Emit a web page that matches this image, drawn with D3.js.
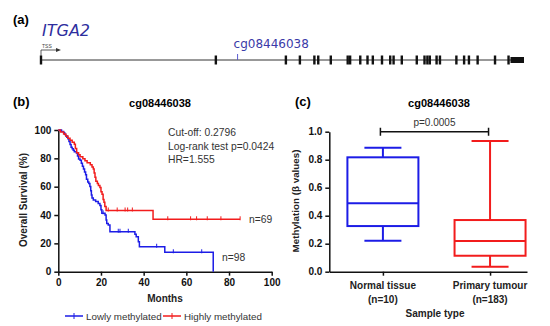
<!DOCTYPE html>
<html>
<head>
<meta charset="utf-8">
<script src="https://cdn.jsdelivr.net/npm/d3@7"></script>
<style>
  body { margin: 0; background: #fff; }
  svg { display: block; font-family: "Liberation Sans", Arial, sans-serif; }
</style>
</head>
<body>
<svg id="chart" width="550" height="326"></svg>
<script>
// ---- data ----
// gene model (relative position along ITGA2, 0..100)
var exonPos = [0, 36.2, 50.7, 53.6, 56.6, 57.4, 60.0, 63.5, 64.0, 66.1, 67.6, 68.7, 70.6, 72.3, 73.0, 74.7,
  77.8, 79.4, 80.0, 80.5, 81.9, 82.6, 86.0, 87.6, 88.6, 90.4, 94.0, 96.8];
var utrEnd = [97.2, 100];
var probePos = 40.7;

// Kaplan-Meier steps [month, survival %]
var lowSteps = [[0,100],[1.5,99],[2.5,98],[3,96.9],[3.5,95.9],[4,94.9],[4.5,93.9],[5,91.8],[5.5,89.8],[6,87.8],
  [6.5,86.7],[7,85.7],[7.5,84.7],[8.5,83.7],[9,81.6],[9.5,79.6],[10.2,78.6],[10.8,76.5],[11.3,74.5],[11.8,72.4],
  [12.3,70.4],[12.8,68.4],[13.2,65.3],[13.8,63.3],[14.3,62.2],[14.8,60.2],[15.2,57.1],[15.5,54.1],[15.8,52],
  [16.4,50.6],[17.5,49.5],[18.7,48.2],[19.5,46.8],[20,43.8],[20.4,41.2],[21.9,40],[22.4,36.5],[22.7,34.1],
  [23.4,32.9],[24.2,28.2],[35.9,26.5],[36.5,24.7],[37.5,21.2],[38,17.6],[49.9,13.7],[72.6,0]];
var lowCensor = [[21,41.2],[28.1,28.2],[28.9,28.2],[32.8,28.2],[46.1,17.6],[53.9,13.7],[67.2,13.7]];
var lowEnd = 72.6;

var highSteps = [[0,100],[1,98.6],[2.5,97.1],[3.5,95.7],[4.5,94.2],[5.5,92.8],[6.5,91.3],[7.5,89.9],[8,87],
  [8.6,84],[9.5,82.6],[10.2,81.2],[11.5,79.7],[12.5,78.3],[13.5,76.8],[15,75.4],[15.8,73.9],[16.4,72.5],
  [16.8,69.6],[17.2,66.7],[17.6,63.8],[18.3,62.3],[18.8,60.9],[19.5,59.4],[20,56.5],[20.5,54.7],[21,51],
  [21.4,49],[21.8,46],[22.4,43.2],[44.4,37]];
var highCensor = [[23.4,43.2],[27.6,43.2],[31.3,43.2],[32.5,43.2],[34.7,43.2],[51.3,37],[62,37],[64.8,37],
  [69.8,37],[76.2,37],[85.2,37]];
var highEnd = 85.2;

var kmTicks = [0, 20, 40, 60, 80, 100];
var kmNotes = ["Cut-off: 0.2796", "Log-rank test p=0.0424", "HR=1.555"];

// box plot summary (beta values)
var groups = ["Normal tissue", "Primary tumour"];
var groupN = ["(n=10)", "(n=183)"];
var boxStats = [
  {min: 0.221, q1: 0.326, med: 0.489, q3: 0.817, max: 0.886},
  {min: 0.036, q1: 0.114, med: 0.219, q3: 0.369, max: 0.934}
];
var betaTicks = [0, 0.2, 0.4, 0.6, 0.8, 1.0];
var pText = "p=0.0005";

var BLUE = "#1c1ce6", RED = "#f21c1c";

var svg = d3.select("#chart");

// ---------- panel (a) ----------
svg.append("text").attr("x", 13).attr("y", 24).attr("font-size", 13).attr("font-weight", "bold").text("(a)");
svg.append("text").attr("x", 42).attr("y", 36)
  .attr("font-family", "DejaVu Sans").attr("font-style", "italic").attr("font-size", 16)
  .attr("fill", "#2e2e9e").text("ITGA2");

var geneX = d3.scaleLinear().domain([0, 100]).range([41, 524]);
var gy = 60;
var gene = svg.append("g");
gene.append("line").attr("x1", geneX(0)).attr("x2", geneX(100)).attr("y1", gy).attr("y2", gy)
  .attr("stroke", "#333").attr("stroke-width", 1);
gene.selectAll("rect.exon").data(exonPos).enter().append("rect")
  .attr("class", "exon")
  .attr("x", function(d) { return geneX(d) - 1.2; })
  .attr("y", gy - 4.5).attr("width", 2.4).attr("height", 9).attr("fill", "#111");
gene.append("rect").attr("x", geneX(utrEnd[0])).attr("y", gy - 3)
  .attr("width", geneX(utrEnd[1]) - geneX(utrEnd[0])).attr("height", 6).attr("fill", "#111");
// TSS arrow
gene.append("path").attr("d", "M" + geneX(0) + "," + (gy - 4) + "V" + (gy - 10) + "H" + (geneX(0) + 16))
  .attr("fill", "none").attr("stroke", "#333").attr("stroke-width", 0.8);
gene.append("path").attr("d", "M" + (geneX(0) + 20) + "," + (gy - 10) + "l-5,-2v4z").attr("fill", "#333");
gene.append("text").attr("x", geneX(0) + 1).attr("y", gy - 12).attr("font-size", 5)
  .attr("fill", "#444").text("TSS");
// probe
gene.append("line").attr("x1", geneX(probePos)).attr("x2", geneX(probePos)).attr("y1", gy - 6).attr("y2", gy)
  .attr("stroke", "#5a5ad0").attr("stroke-width", 1);
gene.append("text").attr("x", geneX(probePos) - 4).attr("y", 48)
  .attr("font-family", "DejaVu Sans").attr("font-size", 12).attr("fill", "#3a3aa8").text("cg08446038");

// ---------- panel (b) ----------
svg.append("text").attr("x", 13).attr("y", 106).attr("font-size", 13).attr("font-weight", "bold").text("(b)");
svg.append("text").attr("x", 160).attr("y", 107).attr("text-anchor", "middle")
  .attr("font-size", 11).attr("font-weight", "bold").text("cg08446038");

var kx = d3.scaleLinear().domain([0, 100]).range([58.3, 271.7]);
var ky = d3.scaleLinear().domain([0, 100]).range([271.7, 130]);

var kmAxisY = svg.append("g").attr("transform", "translate(" + kx(0) + ",0)")
  .call(d3.axisLeft(ky).tickValues(kmTicks).tickSize(4).tickSizeOuter(0));
var kmAxisX = svg.append("g").attr("transform", "translate(0," + ky(0) + ")")
  .call(d3.axisBottom(kx).tickValues(kmTicks).tickSize(4).tickSizeOuter(0));
[kmAxisY, kmAxisX].forEach(function(a) {
  a.selectAll("path, line").attr("stroke", "#111").attr("stroke-width", 1.5);
  a.selectAll("text").attr("font-family", "Liberation Sans").attr("font-size", 10)
    .attr("font-weight", "bold").attr("fill", "#111");
});

var stepLine = d3.line().x(function(d) { return kx(d[0]); }).y(function(d) { return ky(d[1]); })
  .curve(d3.curveStepAfter);

function drawKm(steps, endM, censor, color) {
  var pts = steps.slice();
  var last = pts[pts.length - 1];
  if (last[0] < endM) pts.push([endM, last[1]]);
  svg.append("path").attr("d", stepLine(pts)).attr("fill", "none")
    .attr("stroke", color).attr("stroke-width", 1.5);
  svg.append("g").selectAll("line").data(censor).enter().append("line")
    .attr("x1", function(d) { return kx(d[0]); }).attr("x2", function(d) { return kx(d[0]); })
    .attr("y1", function(d) { return ky(d[1]) - 3; }).attr("y2", function(d) { return ky(d[1]) + 1; })
    .attr("stroke", color).attr("stroke-width", 1);
}
drawKm(lowSteps, lowEnd, lowCensor, BLUE);
drawKm(highSteps, highEnd, highCensor, RED);

svg.append("g").selectAll("text").data(kmNotes).enter().append("text")
  .attr("x", 168).attr("y", function(d, i) { return 136 + i * 13.5; })
  .attr("font-size", 10.3).attr("fill", "#333").text(function(d) { return d; });
svg.append("text").attr("x", 249).attr("y", 223).attr("font-size", 10.3).attr("fill", "#333").text("n=69");
svg.append("text").attr("x", 222).attr("y", 261).attr("font-size", 10.3).attr("fill", "#333").text("n=98");

svg.append("text").attr("x", kx(50)).attr("y", 302).attr("text-anchor", "middle")
  .attr("font-size", 10).attr("font-weight", "bold").attr("fill", "#222").text("Months");
svg.append("text").attr("transform", "translate(27,200) rotate(-90)").attr("text-anchor", "middle")
  .attr("font-size", 10).attr("font-weight", "bold").attr("fill", "#222").text("Overall Survival (%)");

// legend
var legend = [{name: "Lowly methylated", color: BLUE, x: 65}, {name: "Highly methylated", color: RED, x: 163}];
var lg = svg.append("g").selectAll("g").data(legend).enter().append("g")
  .attr("transform", function(d) { return "translate(" + d.x + ",316)"; });
lg.append("line").attr("x1", 0).attr("x2", 18).attr("stroke", function(d) { return d.color; }).attr("stroke-width", 1.5);
lg.append("line").attr("x1", 9).attr("x2", 9).attr("y1", -3).attr("y2", 3)
  .attr("stroke", function(d) { return d.color; }).attr("stroke-width", 1);
lg.append("text").attr("x", 21).attr("y", 3.5).attr("font-size", 9.8).attr("fill", "#333")
  .text(function(d) { return d.name; });

// ---------- panel (c) ----------
svg.append("text").attr("x", 295).attr("y", 106).attr("font-size", 13).attr("font-weight", "bold").text("(c)");
svg.append("text").attr("x", 439).attr("y", 107).attr("text-anchor", "middle")
  .attr("font-size", 11).attr("font-weight", "bold").text("cg08446038");

var by = d3.scaleLinear().domain([0, 1]).range([271.7, 131.7]);
var bx = d3.scalePoint().domain(groups).range([329.3, 527]).padding(0.4226).align(0.592);

var bAxisY = svg.append("g").attr("transform", "translate(329.3,0)")
  .call(d3.axisLeft(by).tickValues(betaTicks).tickFormat(d3.format(".1f")).tickSize(4).tickSizeOuter(0));
var bAxisX = svg.append("g").attr("transform", "translate(0," + by(0) + ")")
  .call(d3.axisBottom(bx).tickSize(4).tickSizeOuter(0).tickFormat(""));
[bAxisY, bAxisX].forEach(function(a) {
  a.selectAll("path, line").attr("stroke", "#111").attr("stroke-width", 1.5);
  a.selectAll("text").attr("font-family", "Liberation Sans").attr("font-size", 10)
    .attr("font-weight", "bold").attr("fill", "#111");
});

var xl = svg.append("g").selectAll("text").data(groups).enter().append("text")
  .attr("text-anchor", "middle").attr("font-size", 10).attr("font-weight", "bold").attr("fill", "#222");
xl.append("tspan").attr("x", function(d) { return bx(d); }).attr("y", 289).text(function(d) { return d; });
xl.append("tspan").attr("x", function(d) { return bx(d); }).attr("y", 303)
  .text(function(d, i) { return groupN[i]; });

svg.append("text").attr("x", 435).attr("y", 317).attr("text-anchor", "middle")
  .attr("font-size", 10).attr("font-weight", "bold").attr("fill", "#222").text("Sample type");
var yl = svg.append("text").attr("transform", "translate(299,201) rotate(-90)").attr("text-anchor", "middle")
  .attr("font-size", 9.8).attr("font-weight", "bold").attr("fill", "#222");
yl.text("Methylation (β values)");

var boxW = 71, capW = 37;
var boxColors = [BLUE, RED];
var boxes = svg.append("g").selectAll("g").data(boxStats).enter().append("g")
  .attr("stroke", function(d, i) { return boxColors[i]; }).attr("stroke-width", 2).attr("fill", "none");
boxes.append("rect")
  .attr("x", function(d, i) { return bx(groups[i]) - boxW / 2; })
  .attr("y", function(d) { return by(d.q3); })
  .attr("width", boxW).attr("height", function(d) { return by(d.q1) - by(d.q3); });
boxes.append("line")
  .attr("x1", function(d, i) { return bx(groups[i]) - boxW / 2; })
  .attr("x2", function(d, i) { return bx(groups[i]) + boxW / 2; })
  .attr("y1", function(d) { return by(d.med); }).attr("y2", function(d) { return by(d.med); });
boxes.append("line")
  .attr("x1", function(d, i) { return bx(groups[i]); }).attr("x2", function(d, i) { return bx(groups[i]); })
  .attr("y1", function(d) { return by(d.max); }).attr("y2", function(d) { return by(d.q3); });
boxes.append("line")
  .attr("x1", function(d, i) { return bx(groups[i]); }).attr("x2", function(d, i) { return bx(groups[i]); })
  .attr("y1", function(d) { return by(d.q1); }).attr("y2", function(d) { return by(d.min); });
boxes.append("line")
  .attr("x1", function(d, i) { return bx(groups[i]) - capW / 2; })
  .attr("x2", function(d, i) { return bx(groups[i]) + capW / 2; })
  .attr("y1", function(d) { return by(d.max); }).attr("y2", function(d) { return by(d.max); });
boxes.append("line")
  .attr("x1", function(d, i) { return bx(groups[i]) - capW / 2; })
  .attr("x2", function(d, i) { return bx(groups[i]) + capW / 2; })
  .attr("y1", function(d) { return by(d.min); }).attr("y2", function(d) { return by(d.min); });

// significance bracket
var brY = by(1.0), bx1 = bx(groups[0]) - 2.5, bx2 = bx(groups[1]) - 1.5;
svg.append("path").attr("d", "M" + bx1 + "," + (brY - 4) + "v8M" + bx1 + "," + brY + "H" + bx2 + "M" + bx2 + "," + (brY - 4) + "v8")
  .attr("fill", "none").attr("stroke", "#111").attr("stroke-width", 1.5);
svg.append("text").attr("x", (bx1 + bx2) / 2).attr("y", brY - 6).attr("text-anchor", "middle")
  .attr("font-size", 10).attr("fill", "#333").text(pText);
</script>
</body>
</html>
